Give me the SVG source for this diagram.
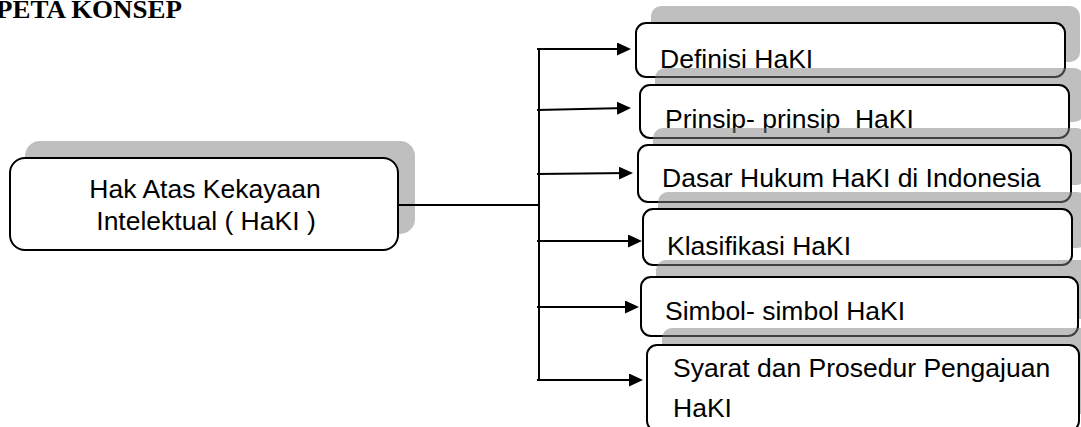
<svg xmlns="http://www.w3.org/2000/svg" width="1081" height="427" viewBox="0 0 1081 427">
  <style>
    .shadow { fill: #808080; fill-opacity: 0.5; }
    .box { fill: #ffffff; stroke: #000000; stroke-width: 2; }
    .label { font-family: "Liberation Sans", Arial, sans-serif; font-size: 26.5px; fill: #000000; }
    .title { font-family: "Liberation Serif", "Times New Roman", serif; font-size: 25px; font-weight: bold; fill: #000000; }
    .link { fill: none; stroke: #000000; stroke-width: 2; }
  </style>
  <defs>
    <marker id="head" viewBox="0 0 14 13" refX="10" refY="6.5" markerWidth="14" markerHeight="13" markerUnits="userSpaceOnUse" orient="auto">
      <path d="M0,0 L14,6.5 L0,13 Z" fill="#000000"/>
    </marker>
  </defs>

  <rect width="1081" height="427" fill="#ffffff"/>

  <text class="title" x="-4" y="18" textLength="186" lengthAdjust="spacingAndGlyphs">PETA KONSEP</text>

  <!-- central concept -->
  <g id="node-haki">
    <rect class="shadow" x="25" y="141" width="390" height="93" rx="15"/>
    <rect class="box" x="10" y="158" width="388" height="92" rx="15"/>
    <text class="label" x="205" y="198" text-anchor="middle">Hak Atas Kekayaan</text>
    <text class="label" x="206" y="230" text-anchor="middle">Intelektual ( HaKI )</text>
  </g>

  <!-- sub topics, top to bottom -->
  <g id="node-definisi">
    <rect class="shadow" x="651" y="6" width="429" height="56" rx="10"/>
    <rect class="box" x="636" y="23" width="429" height="54" rx="10"/>
    <text class="label" x="660" y="68">Definisi HaKI</text>
  </g>

  <g id="node-prinsip">
    <rect class="shadow" x="655" y="68" width="429" height="54" rx="10"/>
    <rect class="box" x="640" y="85" width="429" height="53" rx="10"/>
    <text class="label" x="665" y="128" xml:space="preserve">Prinsip- prinsip  HaKI</text>
  </g>

  <g id="node-dasar">
    <rect class="shadow" x="653" y="128" width="433" height="57" rx="10"/>
    <rect class="box" x="638" y="145" width="433" height="57" rx="10"/>
    <text class="label" x="662" y="187">Dasar Hukum HaKI di Indonesia</text>
  </g>

  <g id="node-klasifikasi">
    <rect class="shadow" x="658" y="192" width="429" height="56" rx="10"/>
    <rect class="box" x="643" y="209" width="429" height="56" rx="10"/>
    <text class="label" x="667" y="255">Klasifikasi HaKI</text>
  </g>

  <g id="node-simbol">
    <rect class="shadow" x="656" y="260" width="437" height="59" rx="10"/>
    <rect class="box" x="641" y="277" width="437" height="59" rx="10"/>
    <text class="label" x="665" y="320">Simbol- simbol HaKI</text>
  </g>

  <g id="node-syarat">
    <rect class="shadow" x="662" y="328" width="432" height="86" rx="10"/>
    <rect class="box" x="647" y="345" width="432" height="86" rx="10"/>
    <text class="label" x="673" y="377">Syarat dan Prosedur Pengajuan</text>
    <text class="label" x="673" y="417">HaKI</text>
  </g>

  <!-- connectors -->
  <g id="connectors">
    <path class="link" d="M398,205 H539"/>
    <path class="link" d="M539,49 V380"/>
    <path class="link" marker-end="url(#head)" d="M537,49 L627,49"/>
    <path class="link" marker-end="url(#head)" d="M537,110 L627,108"/>
    <path class="link" marker-end="url(#head)" d="M537,174 L629,173"/>
    <path class="link" marker-end="url(#head)" d="M537,241 L638,241"/>
    <path class="link" marker-end="url(#head)" d="M537,307 L635,307"/>
    <path class="link" marker-end="url(#head)" d="M537,380 L639,380"/>
  </g>
</svg>
